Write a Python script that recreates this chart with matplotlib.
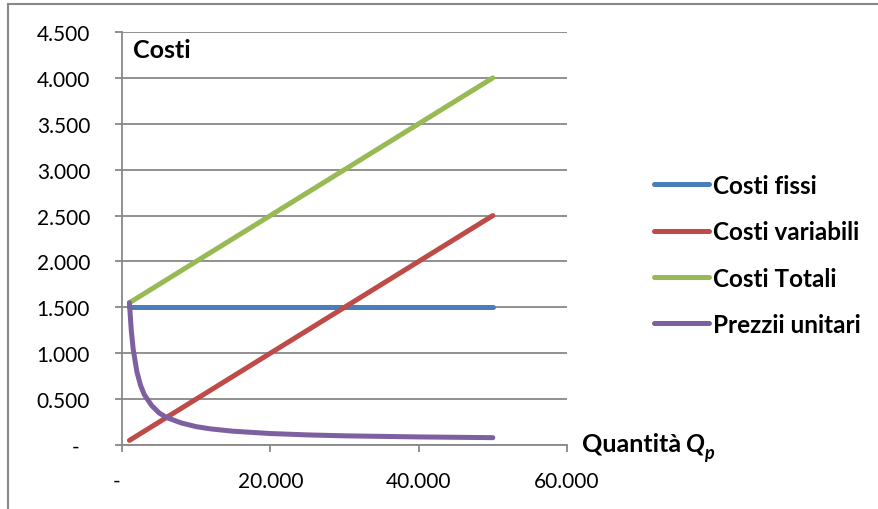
import matplotlib.pyplot as plt
from matplotlib.lines import Line2D

plt.rcParams['font.family'] = ['Lato', 'DejaVu Sans']

# quantities (units) and costs (thousands)
q_lines = [1000, 50000]
costi_fissi = [1.5, 1.5]
costi_variabili = [0.05, 2.5]
costi_totali = [1.55, 4.0]

# unit price curve read along the quantity axis
q_prezzi = [1000, 1250, 1500, 2000, 2500, 3000, 4000, 5000, 6000, 8000,
            10000, 12000, 15000, 20000, 25000, 30000, 40000, 50000]
prezzi_unitari = [1.55, 1.25, 1.05, 0.80, 0.65, 0.55, 0.43, 0.35, 0.30, 0.24,
                  0.20, 0.175, 0.15, 0.125, 0.11, 0.10, 0.088, 0.08]

y_ticks = [0, 0.5, 1.0, 1.5, 2.0, 2.5, 3.0, 3.5, 4.0, 4.5]
y_labels = ['-  ', '0.500', '1.000', '1.500', '2.000', '2.500',
            '3.000', '3.500', '4.000', '4.500']
x_ticks = [0, 20000, 40000, 60000]
x_labels = ['-  ', '20.000', '40.000', '60.000']

W, H = 879, 510
fig = plt.figure(figsize=(W / 100, H / 100), dpi=100)
ax = fig.add_axes([122 / W, 1 - 446 / H, (567 - 122) / W, (446 - 33) / H])

lw = 3.6
ax.plot(q_lines, costi_fissi, color='#4A7EBB', lw=lw, solid_capstyle='round', label='Costi fissi')
ax.plot(q_lines, costi_variabili, color='#BE4B48', lw=lw, solid_capstyle='round', label='Costi variabili')
ax.plot(q_lines, costi_totali, color='#98B954', lw=lw, solid_capstyle='round', label='Costi Totali')
ax.plot(q_prezzi, prezzi_unitari, color='#7D60A0', lw=lw, solid_capstyle='round',
        solid_joinstyle='round', label='Prezzii unitari')

ax.set_xlim(0, 60000)
ax.set_ylim(0, 4.5)
ax.set_yticks(y_ticks)
ax.set_yticklabels(y_labels)
ax.set_xticks(x_ticks)
ax.set_xticklabels(x_labels)

grid_c = '#888888'
ax.grid(axis='y', color=grid_c, lw=1.3)
ax.set_axisbelow(True)
for s in ['top', 'right']:
    ax.spines[s].set_visible(False)
for s in ['left', 'bottom']:
    ax.spines[s].set_color(grid_c)
    ax.spines[s].set_linewidth(1.3)
ax.tick_params(axis='both', direction='out', length=5, width=1.3, color=grid_c,
               labelsize=15, labelcolor='black')
ax.tick_params(axis='y', pad=18)
ax.tick_params(axis='x', pad=14)

bold = 18
fig.text(133 / W, 1 - 50 / H, 'Costi', fontsize=bold, fontweight='bold',
         va='center', ha='left')
fig.text(582 / W, 1 - 444 / H, 'Quantità', fontsize=bold, fontweight='bold',
         va='center', ha='left')
fig.text(686 / W, 1 - 444 / H, 'Q', fontsize=bold, fontweight='bold', style='italic',
         va='center', ha='left')
fig.text(704 / W, 1 - 454 / H, 'p', fontsize=13, fontweight='bold', style='italic',
         va='center', ha='left')

fig.legend(loc='center left', bbox_to_anchor=(632 / W, 1 - 256 / H), frameon=False,
           prop={'size': 17.5, 'weight': 'bold'}, handlelength=2.26, handletextpad=0.16,
           labelspacing=0.96)

# outer chart border
fig.add_artist(Line2D([8 / W, 1], [1 - 4.5 / H, 1 - 4.5 / H], color='#888888', lw=1.5,
                      transform=fig.transFigure))
fig.add_artist(Line2D([8 / W, 8 / W], [0, 1 - 4.5 / H], color='#888888', lw=1.5,
                      transform=fig.transFigure))

fig.savefig('out.png', dpi=100)
